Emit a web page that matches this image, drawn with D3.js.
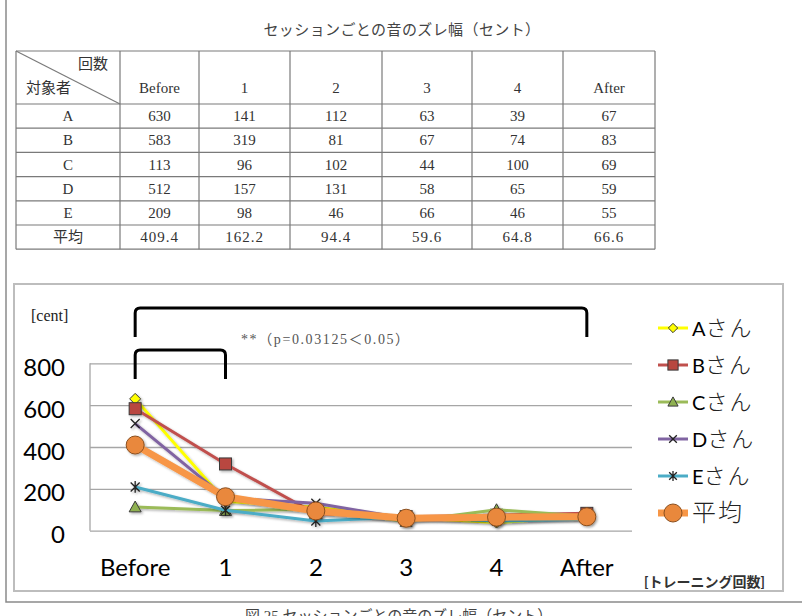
<!DOCTYPE html>
<html>
<head>
<meta charset="utf-8">
<script src="https://cdn.jsdelivr.net/npm/d3@7"></script>
<style>
  body { margin: 0; background: #fff; }
  svg { display: block; }
</style>
</head>
<body>
<svg id="fig" width="802" height="616"></svg>
<script>
// Data.
const categories = ["Before", "1", "2", "3", "4", "After"];
const rowLabels = ["A", "B", "C", "D", "E", "平均"];
const seriesNames = ["Aさん", "Bさん", "Cさん", "Dさん", "Eさん", "平均"];
const valuesA = [630, 141, 112, 63, 39, 67];
const valuesB = [583, 319, 81, 67, 74, 83];
const valuesC = [113, 96, 102, 44, 100, 69];
const valuesD = [512, 157, 131, 58, 65, 59];
const valuesE = [209, 98, 46, 66, 46, 55];
const valuesAvg = [409.4, 162.2, 94.4, 59.6, 64.8, 66.6];
const yTicks = [0, 200, 400, 600, 800];

const tableTitle = "セッションごとの音のズレ幅（セント）";
const figCaption = "図 25 セッションごとの音のズレ幅（セント）";
const pLabel = "**（p=0.03125＜0.05）";
const yUnit = "[cent]";
const xUnit = "[トレーニング回数]";

const allSeries = [valuesA, valuesB, valuesC, valuesD, valuesE, valuesAvg];

// Look of each series (same order as allSeries).
const styles = [
  {color: "#FFFF00", width: 3, marker: "diamond", fill: "#FFFF00"},
  {color: "#C0504D", width: 3, marker: "square", fill: "#B9473F"},
  {color: "#9BBB59", width: 3, marker: "triangle", fill: "#8FB151"},
  {color: "#8064A2", width: 3, marker: "x", fill: "none"},
  {color: "#4BACC6", width: 3, marker: "star", fill: "none"},
  {color: "#F79646", width: 7, marker: "circle", fill: "#E9883C"},
];

const serif = "'Liberation Serif', 'Noto Sans CJK JP', serif";
const sans = "Lato, 'Noto Sans CJK JP', sans-serif";

const svg = d3.select("#fig");

// Page frame.
svg.append("path")
  .attr("d", "M6,0 V602 H802")
  .attr("fill", "none")
  .attr("stroke", "#8a8a8a")
  .attr("stroke-width", 1.5);

// ---- Table ----
svg.append("text")
  .attr("x", 402).attr("y", 35)
  .attr("text-anchor", "middle")
  .attr("font-family", serif).attr("font-size", 15)
  .attr("letter-spacing", 0.4)
  .attr("fill", "#444")
  .text(tableTitle);

const colX = [16, 120, 199, 290, 382, 472, 563, 655];
const headTop = 51, headH = 53, rowH = 24.2;
const tbl = svg.append("g").attr("font-family", serif).attr("font-size", 15).attr("fill", "#333");

function fmt(v, r) {
  return r == 5 ? v.toFixed(1) : String(v);
}

// header
tbl.append("text").attr("x", 108).attr("y", headTop + 18).attr("text-anchor", "end").text("回数");
tbl.append("text").attr("x", 26).attr("y", headTop + 42).text("対象者");
categories.forEach((c, i) => {
  tbl.append("text")
    .attr("x", (colX[i + 1] + colX[i + 2]) / 2)
    .attr("y", headTop + 42)
    .attr("text-anchor", "middle")
    .text(c);
});
// body
rowLabels.forEach((lab, r) => {
  const cy = headTop + headH + rowH * r + rowH / 2 + 5;
  tbl.append("text").attr("x", (colX[0] + colX[1]) / 2).attr("y", cy)
    .attr("text-anchor", "middle").text(lab);
  allSeries[r].forEach((v, i) => {
    tbl.append("text")
      .attr("x", (colX[i + 1] + colX[i + 2]) / 2).attr("y", cy)
      .attr("text-anchor", "middle")
      .attr("letter-spacing", r == 5 ? 1 : 0)
      .text(fmt(v, r));
  });
});
// grid lines
const tblBottom = headTop + headH + rowH * rowLabels.length;
const gridG = svg.append("g").attr("stroke", "#7a7a7a").attr("stroke-width", 1.2);
colX.forEach(x => gridG.append("line").attr("x1", x).attr("x2", x).attr("y1", headTop).attr("y2", tblBottom));
for (let r = 0; r <= rowLabels.length + 1; r++) {
  const yy = r == 0 ? headTop : headTop + headH + rowH * (r - 1);
  gridG.append("line").attr("x1", colX[0]).attr("x2", colX[colX.length - 1]).attr("y1", yy).attr("y2", yy);
}
gridG.append("line").attr("x1", colX[0]).attr("y1", headTop).attr("x2", colX[1]).attr("y2", headTop + headH);

// ---- Chart ----
svg.append("rect")
  .attr("x", 14).attr("y", 284).attr("width", 769).attr("height", 307)
  .attr("fill", "#fff").attr("stroke", "#bdbdbd").attr("stroke-width", 2);

const plot = {left: 90, right: 632, top: 363.3, bottom: 530.7};

const xScale = d3.scaleBand().domain(categories).range([plot.left, plot.right]);
const yScale = d3.scaleLinear().domain([0, 800]).range([plot.bottom, plot.top]);
const cx = c => xScale(c) + xScale.bandwidth() / 2;

const defs = svg.append("defs");
defs.append("filter").attr("id", "shadow").attr("x", "-20%").attr("y", "-20%").attr("width", "140%").attr("height", "140%")
  .append("feDropShadow")
  .attr("dx", 1.5).attr("dy", 1.5).attr("stdDeviation", 1.2)
  .attr("flood-color", "#000").attr("flood-opacity", 0.3);

// y axis with gridlines
svg.append("g")
  .attr("transform", `translate(${plot.left},0)`)
  .call(d3.axisLeft(yScale).tickValues(yTicks).tickSize(-(plot.right - plot.left)).tickPadding(25))
  .call(g => g.select(".domain").remove())
  .call(g => g.selectAll(".tick line").attr("stroke", "#a6a6a6").attr("stroke-width", 1.3))
  .call(g => g.selectAll(".tick text")
    .attr("font-family", sans).attr("font-size", 24).attr("fill", "#000").attr("dy", "0.5em"));
svg.append("line")
  .attr("x1", plot.left).attr("x2", plot.left)
  .attr("y1", plot.top).attr("y2", plot.bottom)
  .attr("stroke", "#a6a6a6").attr("stroke-width", 1.3);

// x axis labels
svg.append("g")
  .attr("transform", `translate(0,${plot.bottom})`)
  .call(d3.axisBottom(xScale).tickSize(0).tickPadding(28))
  .call(g => g.select(".domain").remove())
  .call(g => g.selectAll(".tick text")
    .attr("font-family", sans).attr("font-size", 24).attr("fill", "#000"));

function drawMarker(g, type, x, y, st, k) {
  k = k || 1;
  const edge = "#3a3a3a";
  if (type == "diamond") {
    const s = 5.5 * k;
    g.append("path").attr("d", `M${x},${y - s} L${x + s},${y} L${x},${y + s} L${x - s},${y} Z`)
      .attr("fill", st.fill).attr("stroke", edge).attr("stroke-width", 1);
  } else if (type == "square") {
    const s = 6 * k;
    g.append("rect").attr("x", x - s).attr("y", y - s).attr("width", 2 * s).attr("height", 2 * s)
      .attr("fill", st.fill).attr("stroke", edge).attr("stroke-width", 1);
  } else if (type == "triangle") {
    const s = 6 * k;
    g.append("path").attr("d", `M${x},${y - s} L${x + s},${y + s * 0.8} L${x - s},${y + s * 0.8} Z`)
      .attr("fill", st.fill).attr("stroke", edge).attr("stroke-width", 1);
  } else if (type == "x") {
    const s = 4.5 * k;
    g.append("path").attr("d", `M${x - s},${y - s} L${x + s},${y + s} M${x - s},${y + s} L${x + s},${y - s}`)
      .attr("stroke", "#222").attr("stroke-width", 1.3);
  } else if (type == "star") {
    const s = 4.5 * k;
    g.append("path").attr("d", `M${x - s},${y - s} L${x + s},${y + s} M${x - s},${y + s} L${x + s},${y - s} M${x},${y - s * 1.3} L${x},${y + s * 1.3}`)
      .attr("stroke", "#222").attr("stroke-width", 1.3);
  } else if (type == "circle") {
    g.append("circle").attr("cx", x).attr("cy", y).attr("r", 9 * k)
      .attr("fill", st.fill).attr("stroke", "#8a4f1f").attr("stroke-width", 1);
  }
}

const line = d3.line()
  .x((d, i) => cx(categories[i]))
  .y(d => yScale(d));

allSeries.forEach((vals, s) => {
  const st = styles[s];
  const g = svg.append("g").attr("filter", "url(#shadow)");
  g.append("path")
    .datum(vals)
    .attr("d", line)
    .attr("fill", "none")
    .attr("stroke", st.color)
    .attr("stroke-width", st.width)
    .attr("stroke-linejoin", "round");
  vals.forEach((v, i) => drawMarker(g, st.marker, cx(categories[i]), yScale(v), st));
});

// Significance brackets.
function bracket(c0, c1, top, bottom) {
  const x0 = cx(c0), x1 = cx(c1), r = 5;
  svg.append("path")
    .attr("d", `M${x0},${bottom} V${top + r} Q${x0},${top} ${x0 + r},${top} H${x1 - r} Q${x1},${top} ${x1},${top + r} V${bottom}`)
    .attr("fill", "none").attr("stroke", "#000").attr("stroke-width", 3);
}
bracket(categories[0], categories[5], 308, 337);
bracket(categories[0], categories[1], 350, 379);

svg.append("text")
  .attr("x", 241).attr("y", 344)
  .attr("font-family", serif).attr("font-size", 14).attr("fill", "#555")
  .attr("letter-spacing", 1.6)
  .text(pLabel);

svg.append("text")
  .attr("x", 31).attr("y", 321)
  .attr("font-family", serif).attr("font-size", 16).attr("fill", "#222")
  .text(yUnit);

svg.append("text")
  .attr("x", 644).attr("y", 587)
  .attr("font-family", sans).attr("font-size", 14).attr("font-weight", "bold").attr("fill", "#333")
  .text(xUnit);

// Legend.
seriesNames.forEach((name, s) => {
  const st = styles[s];
  const ly = 328 + s * 37;
  const g = svg.append("g");
  g.append("line").attr("x1", 658).attr("x2", 688).attr("y1", ly).attr("y2", ly)
    .attr("stroke", st.color).attr("stroke-width", st.width);
  drawMarker(g, st.marker, 673, ly, st, s == 5 ? 1 : 0.85);
  const m = name.match(/^([A-Za-z]*)(.*)$/);
  const t = g.append("text").attr("x", 692).attr("y", ly + 8);
  if (m[1]) t.append("tspan").attr("font-family", sans).attr("font-size", 20).text(m[1]);
  t.append("tspan").attr("font-family", "'Noto Sans CJK JP', sans-serif").attr("font-weight", 300)
    .attr("font-size", m[1] ? 22 : 24).attr("letter-spacing", 2).attr("fill", "#222").text(m[2]);
});

// Figure caption (cut by the bottom edge, as in the original page).
svg.append("text")
  .attr("x", 245).attr("y", 621)
  .attr("font-family", serif).attr("font-size", 15).attr("fill", "#444")
  .text(figCaption);
</script>
</body>
</html>
